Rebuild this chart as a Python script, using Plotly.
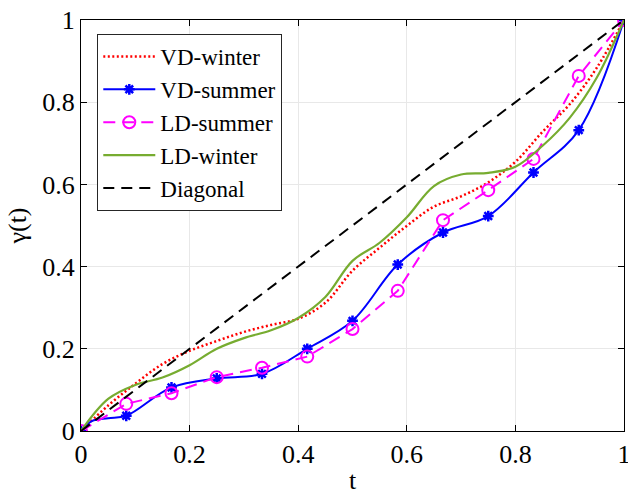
import plotly.graph_objects as go

# Marker positions (sampled every 1/12)
t_mark = [0, 1/12, 2/12, 3/12, 4/12, 5/12, 6/12, 7/12, 8/12, 9/12, 10/12, 11/12, 1]
vd_summer = [0, 0.037, 0.106, 0.128, 0.139, 0.200, 0.268, 0.405, 0.483, 0.523, 0.629, 0.732, 1.0]
ld_summer = [0, 0.066, 0.092, 0.131, 0.154, 0.181, 0.248, 0.341, 0.513, 0.586, 0.662, 0.864, 1.0]

# VD-summer smooth line (marker points plus two early readings)
t_vd_summer_line = [0, 0.02, 0.05, 1/12, 2/12, 3/12, 4/12, 5/12, 6/12, 7/12, 8/12, 9/12, 10/12, 11/12, 1]
vd_summer_line = [0, 0.024, 0.031, 0.037, 0.106, 0.128, 0.139, 0.200, 0.268, 0.405, 0.483, 0.523, 0.629, 0.732, 1.0]

# Smooth-curve readings
t_curve = [0, 0.05, 0.10, 0.15, 0.20, 0.25, 0.30, 0.35, 0.40, 0.45, 0.50,
           0.55, 0.60, 0.65, 0.70, 0.75, 0.80, 0.85, 0.90, 0.95, 1.0]
vd_winter = [0, 0.062, 0.115, 0.163, 0.195, 0.219, 0.241, 0.258, 0.273, 0.312, 0.390,
             0.446, 0.499, 0.546, 0.571, 0.605, 0.655, 0.728, 0.795, 0.884, 1.0]
ld_winter = [0, 0.078, 0.112, 0.130, 0.160, 0.200, 0.226, 0.245, 0.275, 0.326, 0.414,
             0.458, 0.520, 0.596, 0.624, 0.628, 0.643, 0.694, 0.762, 0.860, 1.0]

diag_t = [0, 1]
diag_v = [0, 1]

tick_vals = [0, 0.2, 0.4, 0.6, 0.8, 1]
tick_text = ["0", "0.2", "0.4", "0.6", "0.8", "1"]

FONT = "Liberation Serif"
BLUE = "#0000ff"
MAGENTA = "#ff00ff"

blue_line = dict(color=BLUE, width=2, shape="spline")
blue_marker = dict(symbol="asterisk-open", size=9, color=BLUE, line=dict(color=BLUE, width=2.5))

fig = go.Figure()
fig.add_trace(go.Scatter(x=t_curve, y=vd_winter, mode="lines", name="VD-winter",
                         line=dict(color="#ff0000", width=2.5, dash="2px,2.5px", shape="spline")))
# VD-summer: smooth line + markers, with a legend-only entry showing both
fig.add_trace(go.Scatter(x=[None], y=[None], mode="lines+markers", name="VD-summer",
                         line=blue_line, marker=blue_marker))
fig.add_trace(go.Scatter(x=t_vd_summer_line, y=vd_summer_line, mode="lines",
                         showlegend=False, line=blue_line))
fig.add_trace(go.Scatter(x=t_mark, y=vd_summer, mode="markers",
                         showlegend=False, marker=blue_marker))
fig.add_trace(go.Scatter(x=t_mark, y=ld_summer, mode="lines+markers", name="LD-summer",
                         line=dict(color=MAGENTA, width=2, dash="12px,7px"),
                         marker=dict(symbol="circle-open", size=12, color=MAGENTA,
                                     line=dict(color=MAGENTA, width=2))))
fig.add_trace(go.Scatter(x=t_curve, y=ld_winter, mode="lines", name="LD-winter",
                         line=dict(color="#77ac30", width=2.2, shape="spline")))
fig.add_trace(go.Scatter(x=diag_t, y=diag_v, mode="lines", name="Diagonal",
                         line=dict(color="#000000", width=2, dash="11px,7px")))

axis_common = dict(
    range=[0, 1], tickvals=tick_vals, ticktext=tick_text,
    ticks="inside", ticklen=6, tickwidth=1, tickcolor="black",
    showline=True, linecolor="black", linewidth=1.2, mirror="allticks",
    showgrid=True, gridcolor="#e8e8e8", gridwidth=1, zeroline=False,
    tickfont=dict(family=FONT, size=26, color="black"),
    ticklabeloverflow="allow", automargin=False,
)

fig.update_layout(
    width=628, height=499,
    margin=dict(l=81, r=4, t=20, b=68, autoexpand=False),
    paper_bgcolor="white", plot_bgcolor="white",
    font=dict(family=FONT, color="black"),
    showlegend=True,
    legend=dict(x=0.03, y=0.966, xanchor="left", yanchor="top",
                bgcolor="white", bordercolor="#262626", borderwidth=1,
                font=dict(family=FONT, size=23, color="black"),
                itemwidth=52),
    xaxis=dict(**axis_common, title=dict(text="t", font=dict(family=FONT, size=26), standoff=2)),
    yaxis=dict(**axis_common, title=dict(text="γ(t)", font=dict(family=FONT, size=26), standoff=8)),
)

fig.write_html("out.html", config={"displayModeBar": False},
               post_script="document.body.style.margin='0px';")
